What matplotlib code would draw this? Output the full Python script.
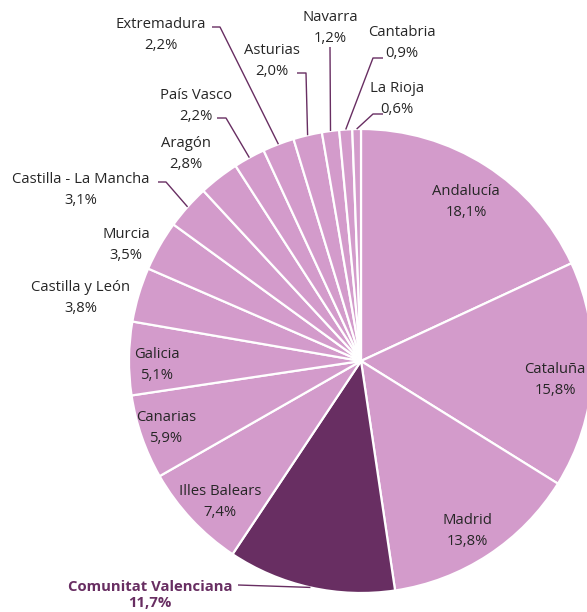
import numpy as np
import matplotlib.pyplot as plt

# Share of total by autonomous community (%), clockwise from the top
regions = ['Andalucía', 'Cataluña', 'Madrid', 'Comunitat Valenciana',
           'Illes Balears', 'Canarias', 'Galicia', 'Castilla y León',
           'Murcia', 'Castilla - La Mancha', 'Aragón', 'País Vasco',
           'Extremadura', 'Asturias', 'Navarra', 'Cantabria', 'La Rioja']
shares = [18.1, 15.8, 13.8, 11.7, 7.4, 5.9, 5.1, 3.8,
          3.5, 3.1, 2.8, 2.2, 2.2, 2.0, 1.2, 0.9, 0.6]
highlight = 'Comunitat Valenciana'

LIGHT = '#D39BCB'
DARK = '#682E62'
TEXT = '#262626'

W, H = 587, 612
cx, cy, R = 361, H - 361, 232

fig = plt.figure(figsize=(W / 100, H / 100), dpi=100)
ax = fig.add_axes([0, 0, 1, 1])

colors = [DARK if r == highlight else LIGHT for r in regions]
wedges, _ = ax.pie(shares, colors=colors, startangle=90, counterclock=False,
                   center=(cx, cy), radius=R, frame=True,
                   wedgeprops=dict(edgecolor='white', linewidth=1.6))
ax.set_xlim(0, W)
ax.set_ylim(0, H)
ax.set_aspect('equal')
ax.axis('off')

# label position (x, y from top) and optional leader elbow
labels = {
    'Andalucía': (466, 202, None),
    'Cataluña': (555, 380, None),
    'Madrid': (467, 531, None),
    'Comunitat Valenciana': (150, 595, [(238, 585)]),
    'Illes Balears': (220, 502, None),
    'Canarias': (166, 428, None),
    'Galicia': (157, 365, None),
    'Castilla y León': (81, 298, None),
    'Murcia': (126, 245, None),
    'Castilla - La Mancha': (81, 190, [(158, 182), (166, 182)]),
    'Aragón': (186, 154, None),
    'País Vasco': (196, 106, [(217, 118), (226, 118)]),
    'Extremadura': (161, 35, [(212, 27), (220, 27)]),
    'Asturias': (272, 61, [(297, 73), (306, 73)]),
    'Navarra': (330, 28, [(330, 47)]),
    'Cantabria': (402, 43, [(383, 58), (373, 58)]),
    'La Rioja': (397, 99, [(383, 114), (373, 114)]),
}

for w, name, val in zip(wedges, regions, shares):
    lx, ly, elbow = labels[name]
    pct = f'{val:.1f}%'.replace('.', ',')
    bold = name == highlight
    ax.text(lx, H - ly, f'{name}\n{pct}', ha='center', va='center',
            fontsize=10.7, family='Open Sans',
            linespacing=1.25 if bold else 1.5,
            color=DARK if bold else TEXT,
            fontweight='bold' if bold else 'normal')
    if elbow:
        ang = np.deg2rad((w.theta1 + w.theta2) / 2)
        end = (cx + R * np.cos(ang), cy + R * np.sin(ang))
        pts = [(x, H - y) for x, y in elbow] + [end]
        xs, ys = zip(*pts)
        ax.plot(xs, ys, color=DARK, lw=1.0, solid_capstyle='butt')

fig.savefig('out.png', dpi=100)
